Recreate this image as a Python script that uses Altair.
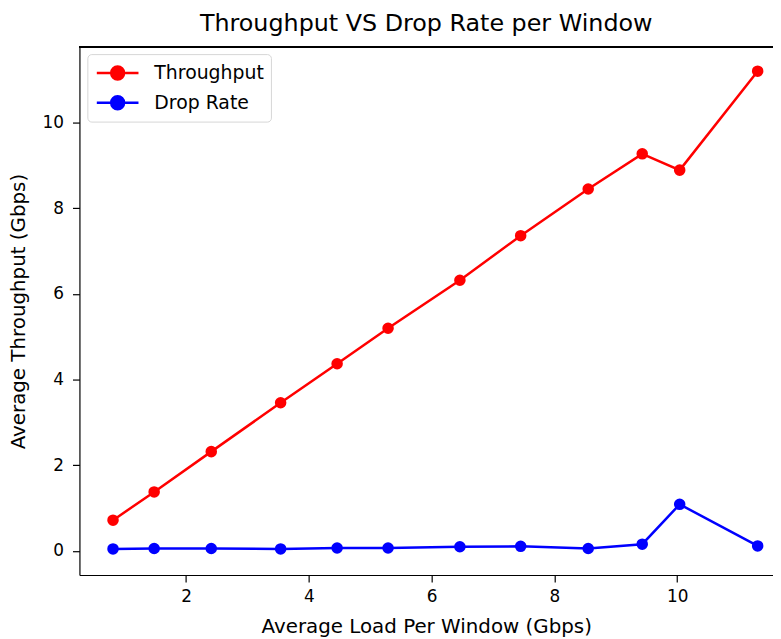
import altair as alt
import pandas as pd

load = [0.81, 1.48, 2.41, 3.54, 4.46, 5.29, 6.46, 7.45, 8.55, 9.43, 10.04, 11.31]
throughput = [0.72, 1.38, 2.32, 3.46, 4.37, 5.20, 6.32, 7.36, 8.45, 9.27, 8.89, 11.20]
drop_rate = [0.05, 0.06, 0.06, 0.05, 0.07, 0.07, 0.10, 0.11, 0.06, 0.16, 1.09, 0.12]
series = ["Throughput", "Drop Rate"]
colors = ["#ff0000", "#0000ff"]

rows = []
for i, x in enumerate(load):
    rows.append({"load": x, "value": throughput[i], "series": series[0]})
    rows.append({"load": x, "value": drop_rate[i], "series": series[1]})
df = pd.DataFrame(rows)

FONT = "DejaVu Sans"
W, H = 699, 532

xs = alt.X("load:Q", scale=alt.Scale(domain=[0.263, 11.56], nice=False, zero=False),
           axis=alt.Axis(title="Average Load Per Window (Gbps)", values=[2, 4, 6, 8, 10],
                         format="d", grid=False))
ys = alt.Y("value:Q", scale=alt.Scale(domain=[-0.56, 11.76], nice=False, zero=False),
           axis=alt.Axis(title="Average Throughput (Gbps)", values=[0, 2, 4, 6, 8, 10],
                         format="d", grid=False))
color = alt.Color("series:N", scale=alt.Scale(domain=series, range=colors),
                  legend=alt.Legend(title=None, orient="none", legendX=8, legendY=7,
                                    symbolType="M-2,0L2,0M-0.62,0A0.62,0.62,0,1,1,0.62,0A0.62,0.62,0,1,1,-0.62,0",
                                    symbolSize=441, symbolStrokeWidth=2.5, symbolOffset=11.5,
                                    labelFontSize=19, labelFont=FONT, labelColor="#000000",
                                    fillColor="white", strokeColor="#d6d6d6", cornerRadius=4,
                                    padding=7, rowPadding=6, labelOffset=25))

line = alt.Chart(df).mark_line(strokeWidth=2.5).encode(x=xs, y=ys, color=color, detail="series:N")
pts = alt.Chart(df).mark_point(filled=True, size=135, opacity=1).encode(x=xs, y=ys, color=color)
top_border = alt.Chart(df).mark_rule(color="black", strokeWidth=1.2).encode(
    y=alt.value(0), x=alt.value(0), x2=alt.value(W))

chart = alt.layer(top_border, line, pts).properties(
    width=W, height=H,
    title=alt.TitleParams("Throughput VS Drop Rate per Window", fontSize=24, font=FONT,
                          fontWeight="normal", offset=11, color="#000000"),
    autosize=alt.AutoSizeParams(type="none"),
    padding={"left": 72, "top": 37, "right": 0, "bottom": 62},
).configure_view(stroke=None).configure_axis(
    domainColor="black", domainWidth=1.2, tickColor="black", tickSize=7, tickWidth=1.2,
    labelFont=FONT, labelFontSize=17, labelColor="#000000", labelPadding=9,
    titleFont=FONT, titleFontSize=20, titleFontWeight="normal", titleColor="#000000",
).configure_axisY(titlePadding=14).configure_axisX(titlePadding=12, labelPadding=7)

chart.save("out.html", embed_options={"renderer": "svg", "actions": False})
